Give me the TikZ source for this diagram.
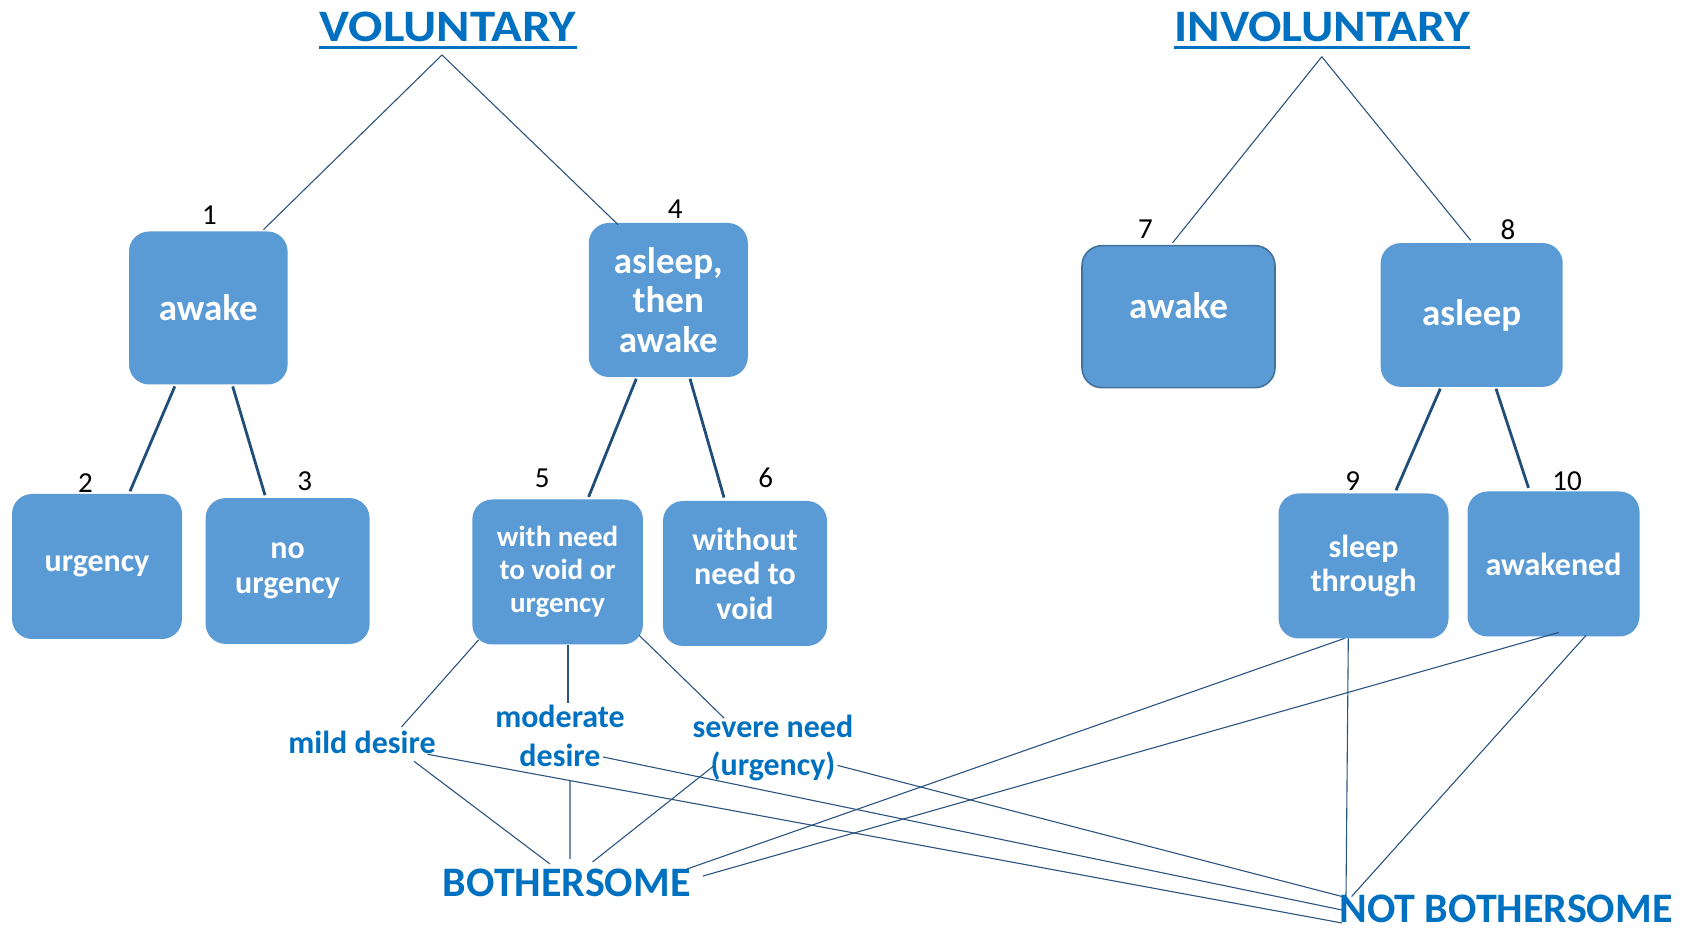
\documentclass[tikz,border=0pt]{standalone}
\usepackage{fontspec}
\setmainfont{Carlito}
\usetikzlibrary{calc}
\definecolor{boxblue}{HTML}{5B9BD5}
\definecolor{boxedge}{HTML}{41719C}
\definecolor{headblue}{HTML}{0070C0}
\definecolor{linkthick}{HTML}{1F4E79}
\definecolor{linkthin}{HTML}{2B5480}
\begin{document}
\begin{tikzpicture}[x=0.5pt,y=-0.5pt,
  box/.style={rounded corners=10pt, fill=boxblue, text=white, align=center, inner sep=0pt},
  bigtxt/.style={font=\bfseries\fontsize{18.5}{19.7}\selectfont},
  midtxt/.style={font=\bfseries\fontsize{16}{17.3}\selectfont},
  smalltxt/.style={font=\bfseries\fontsize{14.5}{16.4}\selectfont},
  num/.style={font=\fontsize{14.5}{16}\selectfont, text=black, inner sep=0pt},
  head/.style={font=\bfseries\fontsize{22.5}{24}\selectfont, text=headblue, inner sep=0pt},
  lab/.style={font=\bfseries\fontsize{16}{19.4}\selectfont, text=headblue, align=center, inner sep=0pt},
  bigword/.style={font=\bfseries\fontsize{21}{23}\selectfont, text=headblue, inner sep=0pt},
  stemline/.style={draw=linkthick, line width=1.4pt},
  fineline/.style={draw=linkthin, line width=0.55pt}]
\useasboundingbox (0,0) rectangle (1688,929);

% headings
\node[head, anchor=base] (hv) at (448,41.7) {\scalebox{1.13}[1]{VOLUNTARY}};
\draw[headblue, line width=1.35pt] ($(hv.base west)+(0,6)$) -- ($(hv.base east)+(0,6)$);
\node[head, anchor=base] (hi) at (1322,41.7) {\scalebox{1.1}[1]{INVOLUNTARY}};
\draw[headblue, line width=1.35pt] ($(hi.base west)+(0,6)$) -- ($(hi.base east)+(0,6)$);
\coordinate (va) at (442,55);
\coordinate (ia) at (1321.8,56.7);

% boxes
\node[box, bigtxt, minimum width=79.3pt, minimum height=76.5pt] (b1) at (208.3,308) {awake};
\node[box, bigtxt, minimum width=79.5pt, minimum height=77pt] (b4) at (668.3,300) {asleep,\\then\\awake};
\node[box, bigtxt, draw=boxedge, line width=0.8pt, text depth=11pt, minimum width=96.5pt, minimum height=71pt] (b7) at (1178.5,316.7) {awake};
\node[box, bigtxt, minimum width=91pt, minimum height=71.9pt] (b8) at (1471.7,315) {asleep};
\node[box, midtxt, minimum width=85pt, minimum height=72.5pt] (b2) at (97,566.5) {urgency};
\node[box, midtxt, minimum width=82pt, minimum height=72.9pt] (b3) at (287.6,571) {no\\urgency};
\node[box, smalltxt, minimum width=85.3pt, minimum height=72.5pt] (b5) at (557.6,572) {with need\\to void or\\urgency};
\node[box, midtxt, minimum width=82pt, minimum height=72.5pt] (b6) at (745,573.5) {without\\need to\\void};
\node[box, midtxt, minimum width=85pt, minimum height=72.5pt] (b9) at (1363.5,566) {sleep\\through};
\node[box, midtxt, minimum width=86pt, minimum height=72.5pt] (b10) at (1553.5,564) {awakened};

% numbers
\node[num] (n1) at (209.4,215) {1};
\node[num] (n4) at (675.3,209) {4};
\node[num] (n7) at (1145.4,229.3) {7};
\node[num] (n8) at (1508,229.3) {8};
\node[num] (n2) at (85.5,483) {2};
\node[num] (n3) at (304.7,481.3) {3};
\node[num] (n5) at (542.2,478) {5};
\node[num] (n6) at (765.7,478) {6};
\node[num] (n9) at (1352.7,481.3) {9};
\node[num] (n10) at (1567,480.7) {10};

% lower labels
\node[lab] (m) at (362,742) {mild desire};
\node[lab] (md) at (560,736) {moderate\\desire};
\node[lab] (sv) at (773,748) {severe need\\(urgency)};
\node[bigword] (bo) at (566.7,883) {BOTHERSOME};
\node[bigword] (nb) at (1506,908.5) {NOT BOTHERSOME};

% links from headings
\draw[fineline] (va) -- ($(b1.north)+(55.2,-1.5)$);
\draw[fineline] (va) -- ($(b4.north)+(-50.3,2)$);
\draw[fineline] (ia) -- ($(b7.north)+(-6,-2)$);
\draw[fineline] (ia) -- ($(b8.north)+(-1,-2.4)$);

% thick links
\draw[stemline] ($(b1.south)+(-33.5,1.5)$) -- ($(b2.north)+(33,-2.3)$);
\draw[stemline] ($(b1.south)+(24.4,1.5)$) -- ($(b3.north)+(-22.6,-2.5)$);
\draw[stemline] ($(b4.south)+(-32,1.3)$) -- ($(b5.north)+(31,-2.2)$);
\draw[stemline] ($(b4.south)+(21.7,1.3)$) -- ($(b6.north)+(-21,-3)$);
\draw[stemline] ($(b8.south)+(-31.4,1.4)$) -- ($(b9.north)+(32.5,-2.8)$);
\draw[stemline] ($(b8.south)+(24.3,1.4)$) -- ($(b10.north)+(-25,-3.2)$);

% lower thin links
\draw[fineline] ($(b5.south west)+(6.6,-4.9)$) -- ($(m)+(39.5,-15)$);
\draw[fineline] ($(b5.south)+(10.4,0.5)$) -- ($(md)+(8,-33)$);
\draw[fineline] ($(b5.south east)+(-4.4,-9.8)$) -- ($(sv)+(-49,-30)$);
\draw[fineline] ($(m)+(52,19.3)$) -- ($(bo)+(-16.7,-19)$);
\draw[fineline] ($(md)+(10,44.7)$) -- ($(bo)+(3.3,-24)$);
\draw[fineline] ($(sv)+(-59,17.7)$) -- ($(bo)+(25.8,-21)$);
\draw[fineline] ($(m)+(65.5,12.3)$) -- ($(nb)+(-164,14.5)$);
\draw[fineline] ($(md)+(43,21)$) -- ($(nb)+(-164,1.5)$);
\draw[fineline] ($(sv)+(64.5,17.4)$) -- ($(nb)+(-164,-12)$);
\draw[fineline] ($(b9.south)+(-19,-0.5)$) -- ($(bo)+(120.3,-14)$);
\draw[fineline] ($(b10.south)+(5.5,-4.5)$) -- ($(bo)+(136.3,-7)$);
\draw[fineline] ($(b9.south)+(-15.2,-0.5)$) -- ($(nb)+(-160,-12)$);
\draw[fineline] ($(b10.south)+(32.5,-1.5)$) -- ($(nb)+(-154.4,-12)$);
\end{tikzpicture}
\end{document}
